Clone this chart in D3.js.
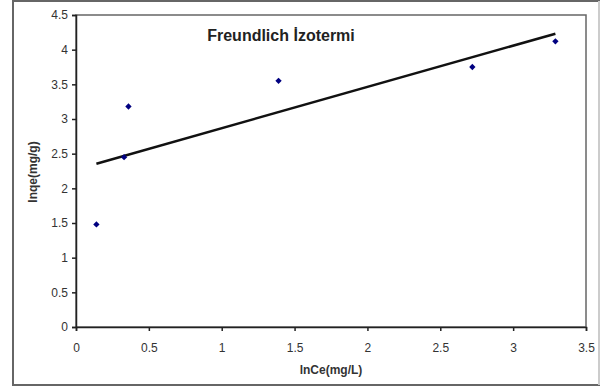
<!DOCTYPE html>
<html>
<head>
<meta charset="utf-8">
<script src="https://cdn.jsdelivr.net/npm/d3@7"></script>
<style>
  body { margin: 0; background: #fff; }
  svg text { font-family: "Liberation Sans Narrow", "Liberation Sans", Arial, sans-serif; }
</style>
</head>
<body>
<svg id="chart" width="605" height="387"></svg>
<script>
// data
var lnCe = [0.14, 0.33, 0.36, 1.39, 2.72, 3.29];
var lnqe = [1.48, 2.45, 3.18, 3.55, 3.75, 4.12];
var xTicks = [0, 0.5, 1, 1.5, 2, 2.5, 3, 3.5];
var yTicks = [0, 0.5, 1, 1.5, 2, 2.5, 3, 3.5, 4, 4.5];
var chartTitle = "Freundlich İzotermi";
var xTitle = "lnCe(mg/L)";
var yTitle = "lnqe(mg/g)";

var svg = d3.select("#chart");
var pLeft = 76, pTop = 15, pRight = 586, pBottom = 327;

// outer frame
svg.append("rect").attr("x", 13).attr("y", 1).attr("width", 586).attr("height", 384)
  .attr("fill", "#fff").attr("stroke", "#666").attr("stroke-width", 2);
svg.append("line").attr("x1", 599).attr("y1", 1).attr("x2", 599).attr("y2", 385)
  .attr("stroke", "#ccc").attr("stroke-width", 2);

var x = d3.scaleLinear().domain([0, 3.5]).range([pLeft, pRight]);
var y = d3.scaleLinear().domain([0, 4.5]).range([pBottom, pTop]);

// plot area border
svg.append("rect").attr("x", pLeft).attr("y", pTop).attr("width", pRight - pLeft).attr("height", pBottom - pTop)
  .attr("fill", "#fff").attr("stroke", "#666").attr("stroke-width", 1.5);

var xAxis = svg.append("g").attr("transform", "translate(0," + pBottom + ")")
  .call(d3.axisBottom(x).tickValues(xTicks).tickSize(4).tickPadding(12).tickFormat(d3.format("")));
var yAxis = svg.append("g").attr("transform", "translate(" + pLeft + ",0)")
  .call(d3.axisLeft(y).tickValues(yTicks).tickSize(4).tickPadding(4).tickFormat(d3.format("")));
[xAxis, yAxis].forEach(function(g){
  g.select(".domain").attr("stroke", "#222").attr("stroke-width", 1.5);
  g.selectAll(".tick line").attr("stroke", "#222").attr("stroke-width", 1.5);
  g.selectAll(".tick text").attr("fill", "#333").style("font-size", "12px");
});

// linear trendline
var n = lnCe.length;
var mx = d3.mean(lnCe), my = d3.mean(lnqe);
var sxy = 0, sxx = 0;
for (var i = 0; i < n; i++) { sxy += (lnCe[i]-mx)*(lnqe[i]-my); sxx += (lnCe[i]-mx)*(lnCe[i]-mx); }
var slope = sxy / sxx, icpt = my - slope * mx;
var x0 = d3.min(lnCe), x1 = d3.max(lnCe);
svg.append("line")
  .attr("x1", x(x0)).attr("y1", y(icpt + slope * x0))
  .attr("x2", x(x1)).attr("y2", y(icpt + slope * x1))
  .attr("stroke", "#111").attr("stroke-width", 2.5);

// points (square turned 45deg = even diamond)
svg.selectAll(".pt").data(lnCe).enter().append("path")
  .attr("class", "pt")
  .attr("d", d3.symbol().type(d3.symbolSquare).size(20))
  .attr("transform", function(d, i){ return "translate(" + x(d) + "," + y(lnqe[i]) + ") rotate(45)"; })
  .attr("fill", "#000080");

svg.append("text").attr("x", 281).attr("y", 41).attr("text-anchor", "middle")
  .style("font-size", "16px").style("font-weight", "bold").attr("fill", "#222").text(chartTitle);
svg.append("text").attr("x", 331).attr("y", 374).attr("text-anchor", "middle")
  .style("font-size", "12px").style("font-weight", "bold").attr("fill", "#333").text(xTitle);
svg.append("text").attr("transform", "translate(37,172) rotate(-90)").attr("text-anchor", "middle")
  .style("font-size", "12px").style("font-weight", "bold").attr("fill", "#333").text(yTitle);
</script>
</body>
</html>
